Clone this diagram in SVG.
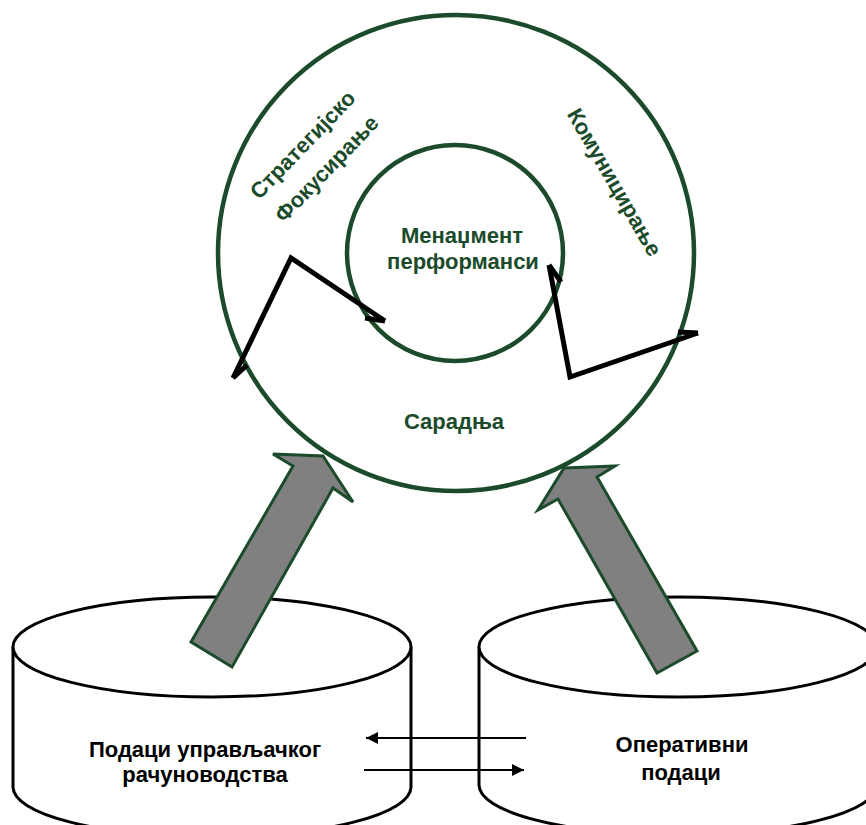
<svg xmlns="http://www.w3.org/2000/svg" width="866" height="825" viewBox="0 0 866 825">
<defs>
<style>
.ring{fill:none;stroke:#1b4b2b;stroke-width:4.5}
.gt{font-family:"Liberation Sans",Arial,sans-serif;font-weight:bold;font-size:22px;fill:#1b4b2b;text-anchor:middle}
.bt{font-family:"Liberation Sans",Arial,sans-serif;font-weight:bold;font-size:22px;fill:#000;text-anchor:middle}
.cyl{fill:#fff;stroke:#000;stroke-width:3}
.zig{fill:none;stroke:#000;stroke-width:5;stroke-linejoin:miter}
.big{fill:#808080;stroke:#1b4b2b;stroke-width:3;stroke-linejoin:miter}
.thin{stroke:#000;stroke-width:2}
</style>
<marker id="ah" viewBox="0 0 10 10" refX="10" refY="5" markerWidth="8" markerHeight="6" markerUnits="strokeWidth" orient="auto">
<path d="M0,0 L10,5 L0,10 z" fill="#000"/>
</marker>
</defs>
<rect width="866" height="825" fill="#fff"/>

<g id="cyl-left">
<path class="cyl" d="M13,647 L13,787 A199,50 0 0 0 411,787 L411,647"/>
<ellipse class="cyl" cx="212" cy="647" rx="199" ry="50"/>
<text class="bt" x="205" y="757">Подаци управљачког</text>
<text class="bt" x="205" y="782">рачуноводства</text>
</g>

<g id="cyl-right">
<path class="cyl" d="M479,647 L479,785 A199,50 0 0 0 877,785 L877,647"/>
<ellipse class="cyl" cx="678" cy="647" rx="199" ry="50"/>
<text class="bt" x="682" y="752">Оперативни</text>
<text class="bt" x="681" y="780">подаци</text>
</g>

<g id="ring-outer">
<circle class="ring" cx="456" cy="253" r="238"/>
<text class="gt" transform="translate(308,150) rotate(-46)">Стратегијско</text>
<text class="gt" transform="translate(332,174) rotate(-46)">Фокусирање</text>
<text class="gt" transform="translate(608,186) rotate(60)">Комуницирање</text>
<text class="gt" x="454" y="429">Сарадња</text>
</g>

<g id="ring-inner">
<circle class="ring" cx="455" cy="253" r="108"/>
<text class="gt" x="462" y="243">Менаџмент</text>
<text class="gt" x="463" y="269">перформанси</text>
</g>

<g id="connectors">
<polyline class="zig" points="233,378 291,258 385,321"/>
<polyline class="zig" points="233,378 247,365"/>
<polyline class="zig" points="385,321 365,318"/>
<polyline class="zig" points="549,265 570,377 698,333"/>
<polyline class="zig" points="549,265 561,282"/>
<polyline class="zig" points="698,333 678,332"/>
<polygon class="big" points="323,456 353,502 333,488 232,667 191,642 293,466 273,454"/>
<polygon class="big" points="564,468 615,466 597,477 697,651 657,673 558,499 538,510"/>
<line class="thin" x1="526" y1="738" x2="366" y2="738" marker-end="url(#ah)"/>
<line class="thin" x1="364" y1="770" x2="524" y2="770" marker-end="url(#ah)"/>
</g>
</svg>
